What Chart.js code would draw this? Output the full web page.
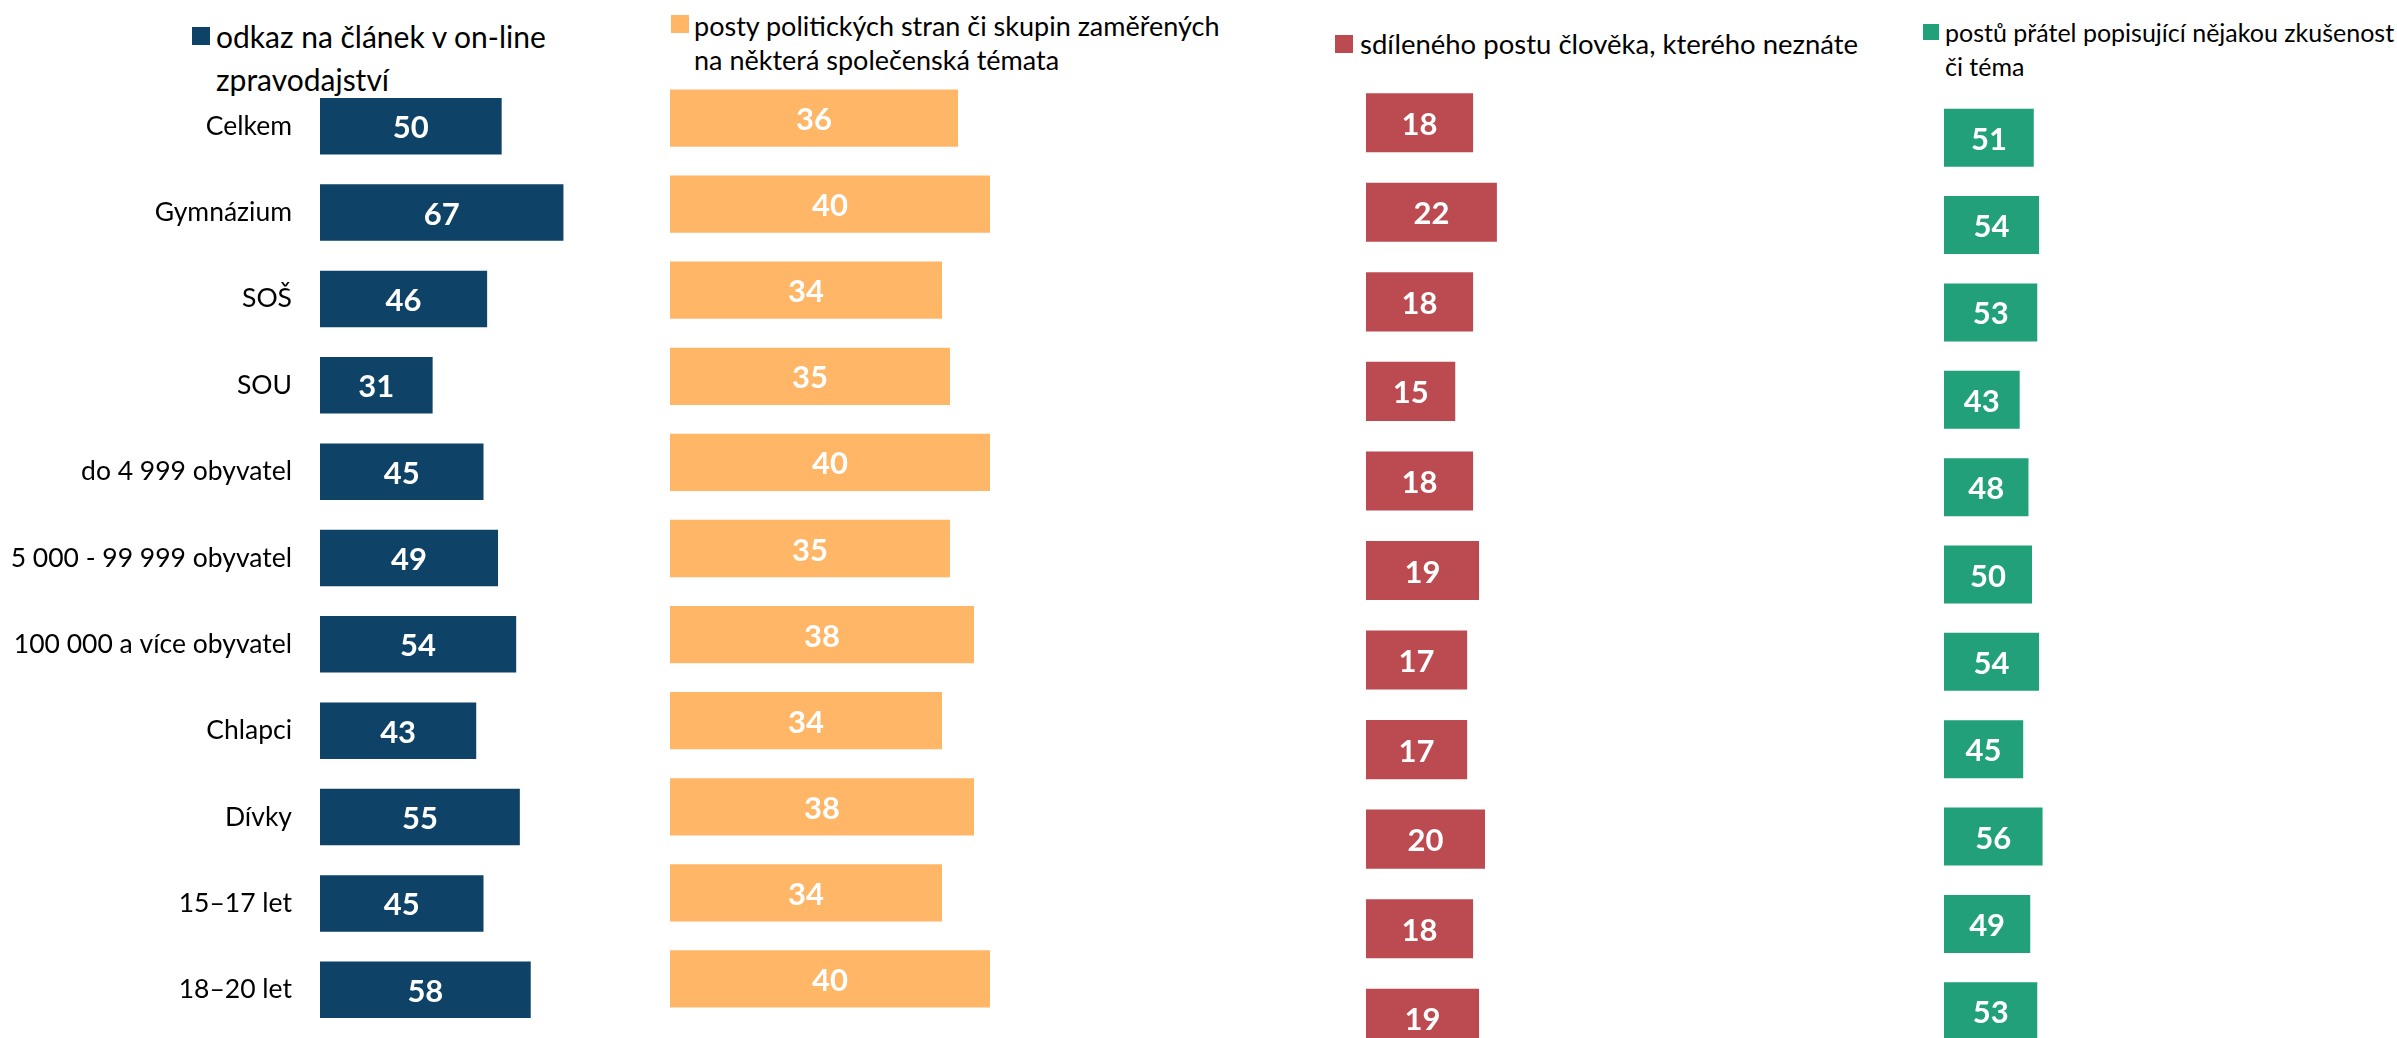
<!DOCTYPE html>
<html>
<head>
<meta charset="utf-8">
<script src="https://cdn.jsdelivr.net/npm/chart.js@4.4.1/dist/chart.umd.min.js"></script>
<style>
    body { margin: 0; width: 2397px; height: 1038px; overflow: hidden; background: #fff; font-family: Lato, sans-serif; }
    canvas { position: absolute; }
    .box { position: absolute; width: 18px; height: 18px; }
    .legend { position: absolute; white-space: nowrap; color: #000; }
</style>
</head>
<body>

<div class="box" style="left:192px;top:27px;background:#0E4266"></div>
<div class="legend" style="left:216px;top:15px;font-size:30px;line-height:43px">odkaz na článek v on-line<br>zpravodajství</div>

<div class="box" style="left:671px;top:15px;background:#FFB666"></div>
<div class="legend" style="left:694px;top:9px;font-size:27px;line-height:34px">posty politických stran či skupin zaměřených<br>na některá společenská témata</div>

<div class="box" style="left:1335px;top:35px;background:#BC4B51"></div>
<div class="legend" style="left:1360px;top:26px;font-size:27.5px;line-height:36px">sdíleného postu člověka, kterého neznáte</div>

<div class="box" style="left:1923px;top:24px;width:16px;height:16px;background:#21A07A"></div>
<div class="legend" style="left:1945px;top:15px;font-size:25px;line-height:34px">postů přátel popisující nějakou zkušenost<br>či téma</div>

<canvas id="odkaz"></canvas>
<canvas id="posty"></canvas>
<canvas id="sdileneho"></canvas>
<canvas id="pratel"></canvas>

<script>
const categories = ['Celkem', 'Gymnázium', 'SOŠ', 'SOU', 'do 4 999 obyvatel', '5 000 - 99 999 obyvatel',
    '100 000 a více obyvatel', 'Chlapci', 'Dívky', '15–17 let', '18–20 let']
const odkazValues = [50, 67, 46, 31, 45, 49, 54, 43, 55, 45, 58]
const postyValues = [36, 40, 34, 35, 40, 35, 38, 34, 38, 34, 40]
const sdilenehoValues = [18, 22, 18, 15, 18, 19, 17, 17, 20, 18, 19]
const pratelValues = [51, 54, 53, 43, 48, 50, 54, 45, 56, 49, 53]

// white numbers in the middle of every bar
const valueLabels = {
    id: 'valueLabels',
    afterDatasetsDraw(chart) {
        const ctx = chart.ctx
        const values = chart.data.datasets[0].data
        ctx.save()
        ctx.font = 'bold 31px Lato'
        ctx.fillStyle = '#fff'
        ctx.textAlign = 'center'
        ctx.textBaseline = 'middle'
        chart.getDatasetMeta(0).data.forEach((bar, i) => {
            ctx.fillText(values[i], (bar.base + bar.x) / 2, bar.y + 2)
        })
        ctx.restore()
    }
}

function makePanel(id, values, color, box) {
    const canvas = document.getElementById(id)
    canvas.width = box.width
    canvas.height = box.height
    canvas.style.left = box.left + 'px'
    canvas.style.top = box.top + 'px'
    return new Chart(canvas, {
        type: 'bar',
        data: {
            labels: categories,
            datasets: [{
                data: values,
                backgroundColor: color,
                borderWidth: 0,
                categoryPercentage: 1,
                barPercentage: box.thickness
            }]
        },
        options: {
            indexAxis: 'y',
            responsive: false,
            animation: false,
            devicePixelRatio: 1,
            layout: { padding: 0, autoPadding: false },
            plugins: { legend: { display: false }, tooltip: { enabled: false } },
            scales: {
                x: { display: false, min: 0, max: box.max },
                y: box.axis ? {
                    afterFit: s => {
                        s.width = box.axis
                        s.paddingTop = 0
                        s.paddingBottom = 0
                    },
                    grid: { display: false, drawTicks: false },
                    border: { display: false },
                    ticks: { padding: 28, color: '#000', font: { family: 'Lato', size: 26.5 } }
                } : { display: false }
            }
        },
        plugins: [valueLabels]
    })
}

makePanel('odkaz', odkazValues, '#0E4266', { left: 0, top: 83, width: 647, height: 950, max: 90, axis: 320, thickness: 0.654 })
makePanel('posty', postyValues, '#FFB666', { left: 670, top: 75, width: 400, height: 947, max: 50, thickness: 0.665 })
makePanel('sdileneho', sdilenehoValues, '#BC4B51', { left: 1366, top: 78, width: 238, height: 985, max: 40, thickness: 0.66 })
makePanel('pratel', pratelValues, '#21A07A', { left: 1944, top: 94, width: 176, height: 961, max: 100, thickness: 0.664 })
</script>
</body>
</html>
